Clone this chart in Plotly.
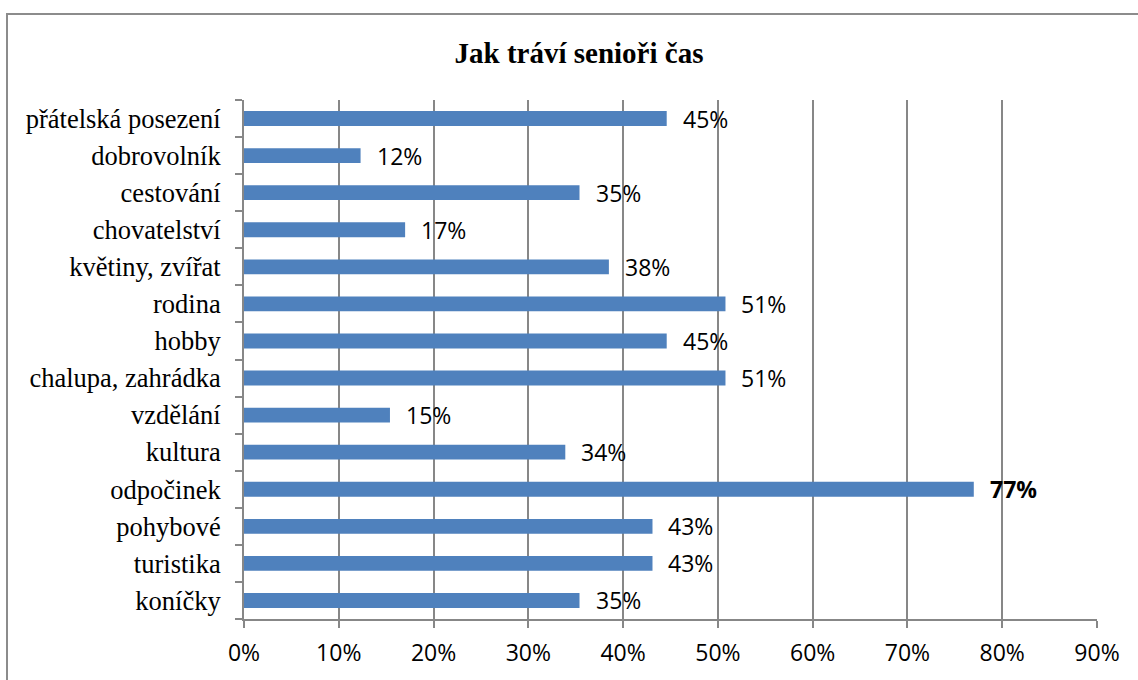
import plotly.graph_objects as go

categories = ["koníčky", "turistika", "pohybové", "odpočinek", "kultura", "vzdělání",
              "chalupa, zahrádka", "hobby", "rodina", "květiny, zvířat", "chovatelství",
              "cestování", "dobrovolník", "přátelská posezení"]
values = [35.4, 43.1, 43.1, 77.0, 33.9, 15.4, 50.8, 44.6, 50.8, 38.5, 17.0, 35.4, 12.3, 44.6]
labels = ["35%", "43%", "43%", "77%", "34%", "15%", "51%", "45%", "51%", "38%", "17%", "35%", "12%", "45%"]
bold_label = "odpočinek"
x_ticks = [0, 10, 20, 30, 40, 50, 60, 70, 80, 90]
x_ticktext = [f"{v}%" for v in x_ticks]

GRAY = "#878787"
SANS = "Open Sans"
SERIF = "Liberation Serif"

fig = go.Figure(go.Bar(
    x=values, y=categories, orientation="h",
    marker=dict(color="#4f81bd", line=dict(width=0)),
    hoverinfo="skip",
))

for c, v, t in zip(categories, values, labels):
    fig.add_annotation(
        x=v, y=c, text=(f"<b>{t}</b>" if c == bold_label else t),
        xanchor="left", yanchor="middle", xshift=14, showarrow=False,
        font=dict(family=SANS, size=23, color="#000000"),
    )

L, R, T, B = 244, 41, 100, 61
W, H = 1138, 680
pw, ph = W - L - R, H - T - B
fig.add_shape(
    type="rect", xref="paper", yref="paper",
    x0=(7 - L) / pw, x1=(W + 5 - L) / pw,
    y0=-(B + 10) / ph, y1=(H - B - 14) / ph,
    line=dict(color="#8c8c8c", width=2), fillcolor="rgba(0,0,0,0)", layer="below",
)

fig.update_layout(
    width=W, height=H,
    margin=dict(l=L, r=R, t=T, b=B),
    paper_bgcolor="white", plot_bgcolor="white",
    bargap=0.6,
    showlegend=False,
    title=dict(text="<b>Jak tráví senioři čas</b>", x=(579) / W, xanchor="center",
               y=1 - 53 / H, yanchor="middle", yref="container",
               font=dict(family=SERIF, size=29, color="#000000")),
    xaxis=dict(range=[0, 90], tickvals=x_ticks, ticktext=x_ticktext,
               showgrid=True, gridcolor=GRAY, gridwidth=2,
               showline=True, linecolor=GRAY, linewidth=2,
               ticks="outside", ticklen=7, tickcolor=GRAY, tickwidth=2,
               ticklabelstandoff=5,
               tickfont=dict(family=SANS, size=23, color="#000000"),
               zeroline=False, fixedrange=True),
    yaxis=dict(type="category", categoryorder="array", categoryarray=categories,
               showgrid=False, showline=True, linecolor=GRAY, linewidth=2,
               ticks="outside", tickson="boundaries", ticklen=7, tickcolor=GRAY, tickwidth=2,
               ticklabelstandoff=16,
               tickfont=dict(family=SERIF, size=26.5, color="#000000"),
               fixedrange=True),
)

fig.write_html("out.html")
